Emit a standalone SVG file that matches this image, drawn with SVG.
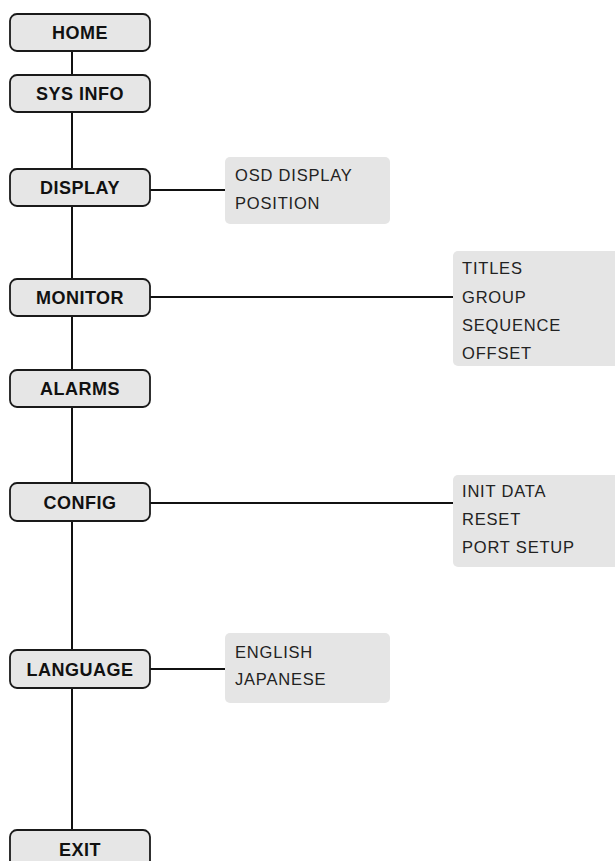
<svg xmlns="http://www.w3.org/2000/svg" width="615" height="861" viewBox="0 0 615 861">
<style>
.n{fill:#e6e6e6;stroke:#1a1a1a;stroke-width:1.8}
.nt{font-family:"Liberation Sans",Arial,sans-serif;font-weight:bold;font-size:18px;fill:#111;text-anchor:middle;letter-spacing:0.5px}
.l{fill:#e5e5e5;stroke:none}
.lt{font-family:"Liberation Sans",Arial,sans-serif;font-size:16.5px;fill:#222;letter-spacing:0.8px}
.c{stroke:#111;stroke-width:2;fill:none}
</style>
<rect width="615" height="861" fill="#fff"/>
<g id="connectors">
<line class="c" x1="72" y1="51" x2="72" y2="75"/>
<line class="c" x1="72" y1="112" x2="72" y2="169"/>
<line class="c" x1="72" y1="206" x2="72" y2="279"/>
<line class="c" x1="72" y1="316" x2="72" y2="370"/>
<line class="c" x1="72" y1="407" x2="72" y2="483"/>
<line class="c" x1="72" y1="521" x2="72" y2="650"/>
<line class="c" x1="72" y1="688" x2="72" y2="830"/>
<line class="c" x1="150" y1="190" x2="225" y2="190"/>
<line class="c" x1="150" y1="297" x2="453" y2="297"/>
<line class="c" x1="150" y1="503" x2="453" y2="503"/>
<line class="c" x1="150" y1="669" x2="225" y2="669"/>
</g>
<g id="home"><rect class="n" x="10" y="14" width="140" height="37" rx="7"/><text class="nt" x="80" y="39">HOME</text></g>
<g id="sysinfo"><rect class="n" x="10" y="75" width="140" height="37" rx="7"/><text class="nt" x="80" y="100">SYS INFO</text></g>
<g id="display"><rect class="n" x="10" y="169" width="140" height="37" rx="7"/><text class="nt" x="80" y="194">DISPLAY</text></g>
<g id="monitor"><rect class="n" x="10" y="279" width="140" height="37" rx="7"/><text class="nt" x="80" y="304">MONITOR</text></g>
<g id="alarms"><rect class="n" x="10" y="370" width="140" height="37" rx="7"/><text class="nt" x="80" y="395">ALARMS</text></g>
<g id="config"><rect class="n" x="10" y="483" width="140" height="38" rx="7"/><text class="nt" x="80" y="509">CONFIG</text></g>
<g id="language"><rect class="n" x="10" y="650" width="140" height="38" rx="7"/><text class="nt" x="80" y="676">LANGUAGE</text></g>
<g id="exit"><rect class="n" x="10" y="830" width="140" height="40" rx="7"/><text class="nt" x="80" y="856">EXIT</text></g>
<g id="display-list"><rect class="l" x="225" y="157" width="165" height="67" rx="5"/>
<text class="lt" x="235" y="181">OSD DISPLAY</text><text class="lt" x="235" y="209">POSITION</text></g>
<g id="monitor-list"><rect class="l" x="453" y="251" width="170" height="115" rx="5"/>
<text class="lt" x="462" y="274">TITLES</text><text class="lt" x="462" y="303">GROUP</text><text class="lt" x="462" y="331">SEQUENCE</text><text class="lt" x="462" y="359">OFFSET</text></g>
<g id="config-list"><rect class="l" x="453" y="475" width="170" height="92" rx="5"/>
<text class="lt" x="462" y="497">INIT DATA</text><text class="lt" x="462" y="525">RESET</text><text class="lt" x="462" y="553">PORT SETUP</text></g>
<g id="language-list"><rect class="l" x="225" y="633" width="165" height="70" rx="5"/>
<text class="lt" x="235" y="658">ENGLISH</text><text class="lt" x="235" y="685">JAPANESE</text></g>
</svg>
